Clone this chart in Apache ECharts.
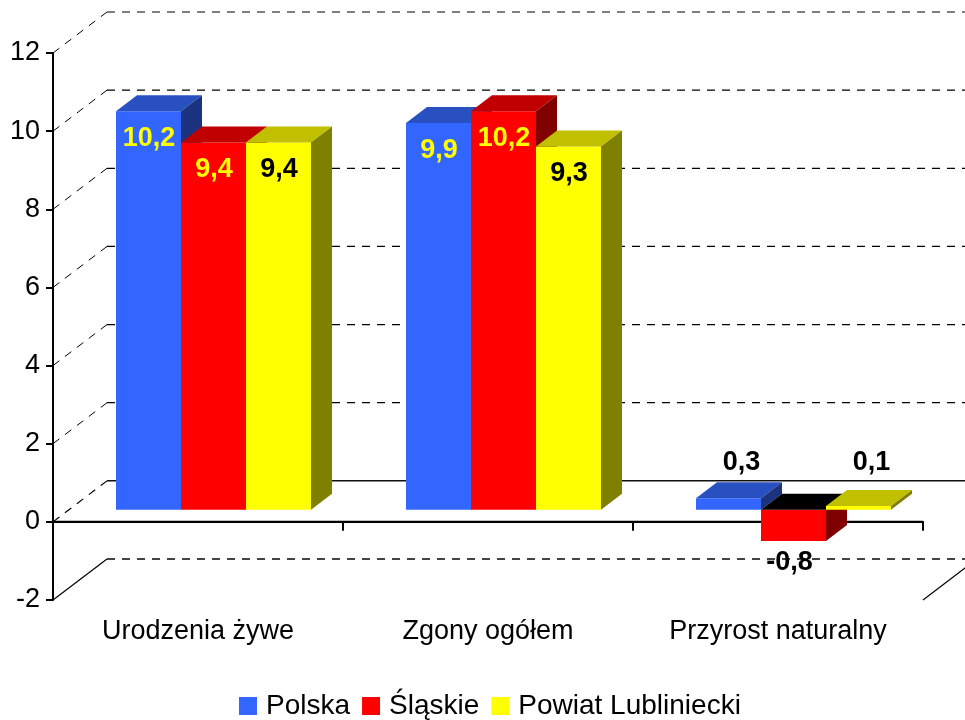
<!DOCTYPE html>
<html>
<head>
<meta charset="utf-8">
<script src="https://cdn.jsdelivr.net/npm/echarts@6/dist/echarts.min.js"></script>
<style>
  html, body { margin: 0; padding: 0; background: #fff; }
  #main { width: 965px; height: 720px; }
</style>
</head>
<body>
<div id="main"></div>
<script>
var categories = ['Urodzenia żywe', 'Zgony ogółem', 'Przyrost naturalny'];
var polska = [10.2, 9.9, 0.3];
var slaskie = [9.4, 10.2, -0.8];
var powiat = [9.4, 9.3, 0.1];
var yTicks = [-2, 0, 2, 4, 6, 8, 10, 12];

var FONT = '"Liberation Sans", Arial, sans-serif';
// wall depth, bar plane offset, bar depth
var DX = 54, DY = -41;
var BX = 15.5, BY = -12;
var BDX = 21, BDY = -16;
var BAR_W = 65;

var faces = [
  { front: '#3366FF', top: '#2850C0', side: '#1C3380', label: '#FFFF00' },
  { front: '#FF0000', top: '#C00000', side: '#800000', label: '#FFFF00' },
  { front: '#FFFF00', top: '#C0C000', side: '#808000', label: '#000000' }
];

function fmt(v) { return String(v).replace('.', ','); }

function wallItem(params, api) {
  var cs = params.coordSys;
  var x0 = cs.x, w = cs.width;
  var v = api.value(1);
  var y = api.coord([0, v])[1];
  var dash = { stroke: '#000', lineWidth: 1.2, lineDash: [8, 7] };
  var solid = { stroke: '#000', lineWidth: 2 };
  var ch = [];
  var diag = { type: 'line', shape: { x1: x0, y1: y, x2: x0 + DX, y2: y + DY } };
  var back = { type: 'line', shape: { x1: x0 + DX, y1: y + DY, x2: x0 + w + DX, y2: y + DY } };
  if (v === yTicks[0]) {
    diag.style = { stroke: '#000', lineWidth: 1.2 };
    back.style = { stroke: '#444', lineWidth: 2, lineDash: [8, 7] };
    ch.push(diag, back, {
      type: 'line', shape: { x1: x0 + w, y1: y, x2: x0 + w + DX, y2: y + DY },
      style: { stroke: '#000', lineWidth: 1.2 }
    });
  } else if (v === 0) {
    diag.style = dash;
    back.style = { stroke: '#111', lineWidth: 1.5 };
    ch.push(diag, back, {
      type: 'line', shape: { x1: x0, y1: y, x2: x0 + w, y2: y }, style: solid
    });
    for (var k = 1; k <= categories.length; k++) {
      var tx = x0 + k * w / categories.length;
      ch.push({ type: 'line', shape: { x1: tx, y1: y, x2: tx, y2: y + 9 }, style: solid });
    }
  } else {
    diag.style = { stroke: '#000', lineWidth: 1, lineDash: [8, 7] };
    back.style = dash;
    ch.push(diag, back);
  }
  return { type: 'group', children: ch };
}

function barSeries(name, values, s) {
  var f = faces[s];
  return {
    name: name,
    type: 'custom',
    itemStyle: { color: f.front },
    encode: { x: 0, y: 1 },
    data: values.map(function (v, i) { return [i, v]; }),
    z: 3 + s,
    renderItem: function (params, api) {
      var i = api.value(0), v = api.value(1);
      var base = api.coord([i, 0]);
      var top = api.coord([i, v]);
      var left = base[0] + BX + (s - 1.5) * BAR_W;
      var yt = Math.min(base[1], top[1]) + BY;
      var yb = Math.max(base[1], top[1]) + BY;
      var ch = [
        { type: 'rect', shape: { x: left, y: yt, width: BAR_W, height: yb - yt }, style: { fill: f.front } },
        { type: 'polygon', shape: { points: [[left, yt], [left + BDX, yt + BDY], [left + BAR_W + BDX, yt + BDY], [left + BAR_W, yt]] },
          style: { fill: v < 0 ? '#000' : f.top } },
        { type: 'polygon', shape: { points: [[left + BAR_W, yt], [left + BAR_W + BDX, yt + BDY], [left + BAR_W + BDX, yb + BDY], [left + BAR_W, yb]] },
          style: { fill: f.side } }
      ];
      var lx, ly, col;
      if (Math.abs(v) > 2) {
        lx = left + BAR_W / 2 + 0.5; ly = yt + 27; col = f.label;
      } else if (v >= 0) {
        lx = left + BAR_W / 2 + 13; ly = base[1] + BY - 47; col = '#000';
      } else {
        lx = left + BAR_W / 2 - 4; ly = yb + 21; col = '#000';
      }
      ch.push({ type: 'text', z2: 10, style: { text: fmt(v), x: lx, y: ly, fill: col,
        font: 'bold 27px ' + FONT, align: 'center', verticalAlign: 'middle' } });
      return { type: 'group', children: ch };
    }
  };
}

var chart = echarts.init(document.getElementById('main'));
chart.setOption({
  animation: false,
  color: ['#3366FF', '#FF0000', '#FFFF00'],
  grid: { left: 53, right: 42, top: 53, bottom: 120, containLabel: false },
  legend: {
    data: ['Polska', 'Śląskie', 'Powiat Lubliniecki'],
    left: 239, top: 692, padding: 0,
    icon: 'rect', itemWidth: 18, itemHeight: 18, itemGap: 12,
    textStyle: { fontSize: 28, color: '#000', fontFamily: FONT, padding: [0, 0, 0, 4] }
  },
  xAxis: {
    type: 'category',
    data: categories,
    axisLine: { lineStyle: { color: '#000', width: 2 } },
    axisTick: { show: true, length: 8, lineStyle: { color: '#000', width: 2 } },
    axisLabel: { fontSize: 27, color: '#000', fontFamily: FONT, margin: 18 },
    splitLine: { show: false }
  },
  yAxis: {
    type: 'value',
    min: -2, max: 12, interval: 2,
    axisLine: { show: true, lineStyle: { color: '#000', width: 2 } },
    axisTick: { show: true, length: 7, lineStyle: { color: '#000', width: 2 } },
    axisLabel: { fontSize: 27, color: '#000', fontFamily: FONT, margin: 13 },
    splitLine: { show: false }
  },
  series: [
    {
      name: 'wall',
      type: 'custom',
      encode: { x: 0, y: 1 },
      data: yTicks.map(function (v) { return [0, v]; }),
      z: 1,
      silent: true,
      renderItem: wallItem
    },
    barSeries('Polska', polska, 0),
    barSeries('Śląskie', slaskie, 1),
    barSeries('Powiat Lubliniecki', powiat, 2)
  ]
});
</script>
</body>
</html>
